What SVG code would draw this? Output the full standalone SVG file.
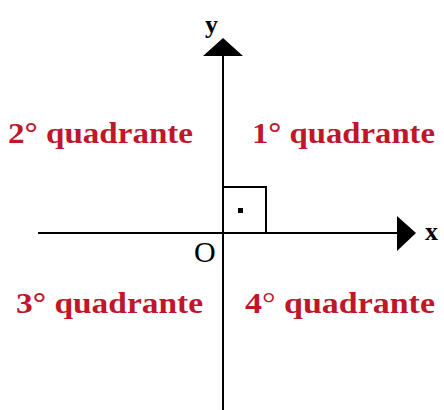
<svg xmlns="http://www.w3.org/2000/svg" width="444" height="410" viewBox="0 0 444 410">
  <style>
    .axis { stroke: #000; stroke-width: 2; fill: none; }
    .head { fill: #000; stroke: none; }
    .quad { font-family: "Liberation Serif", "Times New Roman", serif; font-weight: bold; font-size: 29px; fill: #c0162a; }
    .lbl { font-family: "Liberation Serif", "Times New Roman", serif; fill: #000; }
  </style>
  <rect width="444" height="410" fill="#ffffff"/>
  <g id="connectors">
    <line class="axis" x1="223" y1="55" x2="223" y2="410"/>
    <polygon class="head" points="223,38 203,56 243,56"/>
    <line class="axis" x1="38" y1="233" x2="398" y2="233"/>
    <polygon class="head" points="397,216 416,233 397,251"/>
  </g>
  <g id="right-angle">
    <polyline class="axis" points="223,187 266,187 266,233"/>
    <rect x="238" y="208" width="5" height="5" fill="#000"/>
  </g>
  <g id="label-y"><text class="lbl" x="205" y="33" font-size="26" font-weight="bold">y</text></g>
  <g id="label-x"><text class="lbl" x="425" y="240" font-size="26" font-weight="bold">x</text></g>
  <g id="label-O"><text class="lbl" x="194" y="262" font-size="30">O</text></g>
  <g id="q2"><text class="quad" x="8" y="143" textLength="185" lengthAdjust="spacingAndGlyphs">2° quadrante</text></g>
  <g id="q1"><text class="quad" x="252" y="143" textLength="183" lengthAdjust="spacingAndGlyphs">1° quadrante</text></g>
  <g id="q3"><text class="quad" x="16" y="313" textLength="187" lengthAdjust="spacingAndGlyphs">3° quadrante</text></g>
  <g id="q4"><text class="quad" x="245" y="313" textLength="190" lengthAdjust="spacingAndGlyphs">4<tspan font-weight="normal">°</tspan> quadrante</text></g>
</svg>
